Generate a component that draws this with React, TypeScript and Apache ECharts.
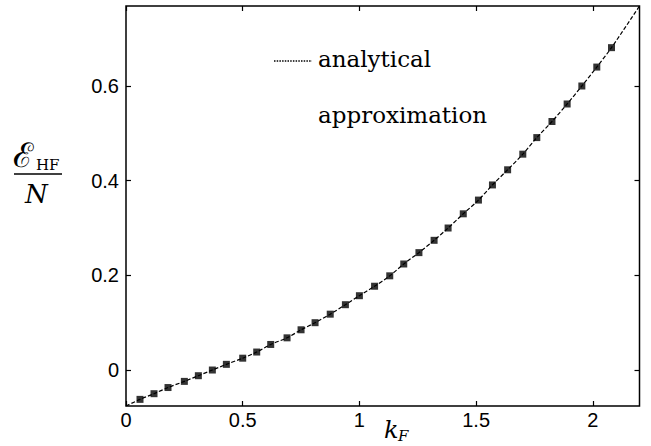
import React, { useEffect, useRef } from "react";
import * as echarts from "echarts";

// Hartree–Fock energy per particle vs Fermi momentum
const kF: number[] = [
  0.06, 0.12, 0.18, 0.25, 0.31, 0.37, 0.43, 0.5, 0.56, 0.62, 0.69, 0.75, 0.81,
  0.875, 0.94, 1.0, 1.065, 1.13, 1.19, 1.255, 1.32, 1.38, 1.445, 1.51, 1.57,
  1.635, 1.7, 1.76, 1.825, 1.89, 1.953, 2.017, 2.08,
];
const eHF: number[] = [
  -0.062, -0.05, -0.037, -0.024, -0.012, 0.0, 0.012, 0.025, 0.038, 0.054,
  0.068, 0.085, 0.1, 0.118, 0.138, 0.157, 0.177, 0.199, 0.224, 0.248, 0.274,
  0.3, 0.33, 0.359, 0.391, 0.423, 0.456, 0.491, 0.525, 0.562, 0.6, 0.64, 0.681,
];
// analytical curve end points (corner to corner of the frame)
const kStart = 0;
const eStart = -0.076;
const kEnd = 2.2;
const eEnd = 0.769;

const xTicks: number[] = [0, 0.5, 1, 1.5, 2];
const yTicks: number[] = [0, 0.2, 0.4, 0.6];

export default function App() {
  const ref = useRef<HTMLDivElement>(null);

  useEffect(() => {
    document.body.style.margin = "0";
    if (!ref.current) return;
    const chart = echarts.init(ref.current, undefined, { renderer: "svg" });

    const points = kF.map((k, i) => [k, eHF[i]]);
    const curve = [[kStart, eStart], ...points, [kEnd, eEnd]];

    const labelFont = {
      fontFamily: "Liberation Sans, Arial, sans-serif",
      color: "#000",
    };
    const tick = (values: number[]) => ({
      show: true,
      inside: true,
      length: 5,
      customValues: values,
      lineStyle: { color: "#000", width: 1.2 },
    });
    const xBase = {
      type: "value",
      min: kStart,
      max: kEnd,
      axisLine: { show: false, onZero: false },
      splitLine: { show: false },
    };
    const yBase = {
      type: "value",
      min: eStart,
      max: eEnd,
      axisLine: { show: false, onZero: false },
      splitLine: { show: false },
    };

    chart.setOption({
      animation: false,
      backgroundColor: "#fff",
      grid: {
        left: 126,
        right: 11.5,
        top: 6,
        bottom: 40,
        containLabel: false,
        show: true,
        borderColor: "#000",
        borderWidth: 1.5,
        backgroundColor: "transparent",
      },
      xAxis: [
        {
          ...xBase,
          position: "bottom",
          axisTick: tick(xTicks),
          axisLabel: { show: true, customValues: xTicks, fontSize: 20, margin: 4, ...labelFont },
        },
        {
          ...xBase,
          position: "top",
          axisTick: tick(xTicks),
          axisLabel: { show: false },
        },
      ],
      yAxis: [
        {
          ...yBase,
          position: "left",
          axisTick: tick(yTicks),
          axisLabel: { show: true, customValues: yTicks, fontSize: 20, margin: 7, ...labelFont },
        },
        {
          ...yBase,
          position: "right",
          axisTick: tick(yTicks),
          axisLabel: { show: false },
        },
      ],
      series: [
        {
          name: "analytical",
          type: "line",
          data: curve,
          smooth: 0.3,
          showSymbol: false,
          lineStyle: { color: "#000", width: 1.2, type: [4, 2] },
          z: 2,
        },
        {
          name: "approximation",
          type: "scatter",
          data: points,
          symbol: "rect",
          symbolSize: 7,
          itemStyle: { color: "#000" },
          z: 3,
        },
      ],
      graphic: [
        {
          type: "line",
          shape: { x1: 274, y1: 61, x2: 312, y2: 61 },
          style: { stroke: "#000", lineWidth: 1.3, lineDash: [1.5, 1.2] },
        },
        {
          type: "text",
          x: 318,
          y: 59,
          style: { text: "analytical", fontFamily: "DejaVu Serif", fontSize: 23, fill: "#000", verticalAlign: "middle" },
        },
        {
          type: "text",
          x: 318,
          y: 115,
          style: { text: "approximation", fontFamily: "DejaVu Serif", fontSize: 23, fill: "#000", verticalAlign: "middle" },
        },
        {
          type: "text",
          x: 13,
          y: 155,
          style: { text: "ℰ", fontFamily: "DejaVu Serif", fontSize: 34, fill: "#000", verticalAlign: "middle" },
        },
        {
          type: "text",
          x: 36,
          y: 165,
          style: { text: "HF", fontFamily: "DejaVu Serif", fontSize: 15, fill: "#000", verticalAlign: "middle" },
        },
        {
          type: "line",
          shape: { x1: 14, y1: 174, x2: 62, y2: 174 },
          style: { stroke: "#000", lineWidth: 1.3 },
        },
        {
          type: "text",
          x: 25,
          y: 194,
          style: { text: "N", fontFamily: "DejaVu Serif", fontStyle: "italic", fontSize: 26, fill: "#000", verticalAlign: "middle" },
        },
        {
          type: "text",
          x: 384,
          y: 430,
          style: { text: "k", fontFamily: "DejaVu Serif", fontStyle: "italic", fontSize: 24, fill: "#000", verticalAlign: "middle" },
        },
        {
          type: "text",
          x: 398,
          y: 436,
          style: { text: "F", fontFamily: "DejaVu Serif", fontStyle: "italic", fontSize: 15, fill: "#000", verticalAlign: "middle" },
        },
      ],
    });

    return () => chart.dispose();
  }, []);

  return <div ref={ref} style={{ width: 651, height: 446 }} />;
}
